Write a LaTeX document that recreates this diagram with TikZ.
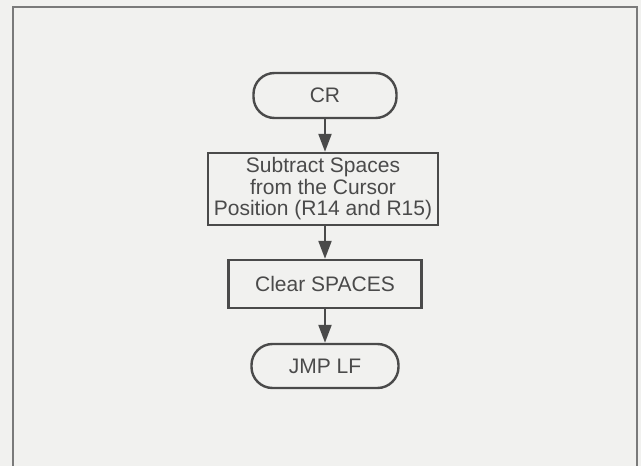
\documentclass[tikz,border=0pt]{standalone}
\usepackage{fontspec}
\setmainfont{Liberation Sans}
\usetikzlibrary{arrows.meta}

\definecolor{paper}{HTML}{F1F1EF}
\definecolor{ink}{HTML}{4A4A4A}
\definecolor{rule}{HTML}{7A7A7A}

\tikzset{
  flowbox/.style={draw=ink,line width=2.4pt,text=ink,inner sep=0pt,align=center,
    font=\fontsize{21}{21.5}\selectfont},
  terminal/.style={flowbox,rounded corners=21pt},
  flow/.style={-{Triangle[length=18pt,width=13pt]},draw=ink,line width=2.2pt}
}

\begin{document}
\begin{tikzpicture}[x=1pt,y=-1pt]
\useasboundingbox[fill=paper] (0,0) rectangle (641,466);
% ================= frame =================
\draw[rule,line width=2.2pt] (13,466) -- (13,7) -- (637,7) -- (637,466);
% ================= flow chart =================
\node[terminal,minimum width=143pt,minimum height=45pt] (cr) at (325,95.5) {CR};
\node[flowbox,minimum width=230pt,minimum height=72pt] (sub) at (323,189)
  {Subtract Spaces\\from the Cursor\\Position (R14 and R15)};
\node[flowbox,minimum width=193pt,minimum height=48pt] (clr) at (325,284) {Clear SPACES};
\node[terminal,minimum width=147pt,minimum height=44pt] (jmp) at (325,366) {JMP LF};
% connectors
\draw[flow] (cr.south) -- (cr.south |- sub.north);
\draw[flow] (clr.north |- sub.south) -- (clr.north);
\draw[flow] (clr.south) -- (jmp.north);
\end{tikzpicture}
\end{document}
